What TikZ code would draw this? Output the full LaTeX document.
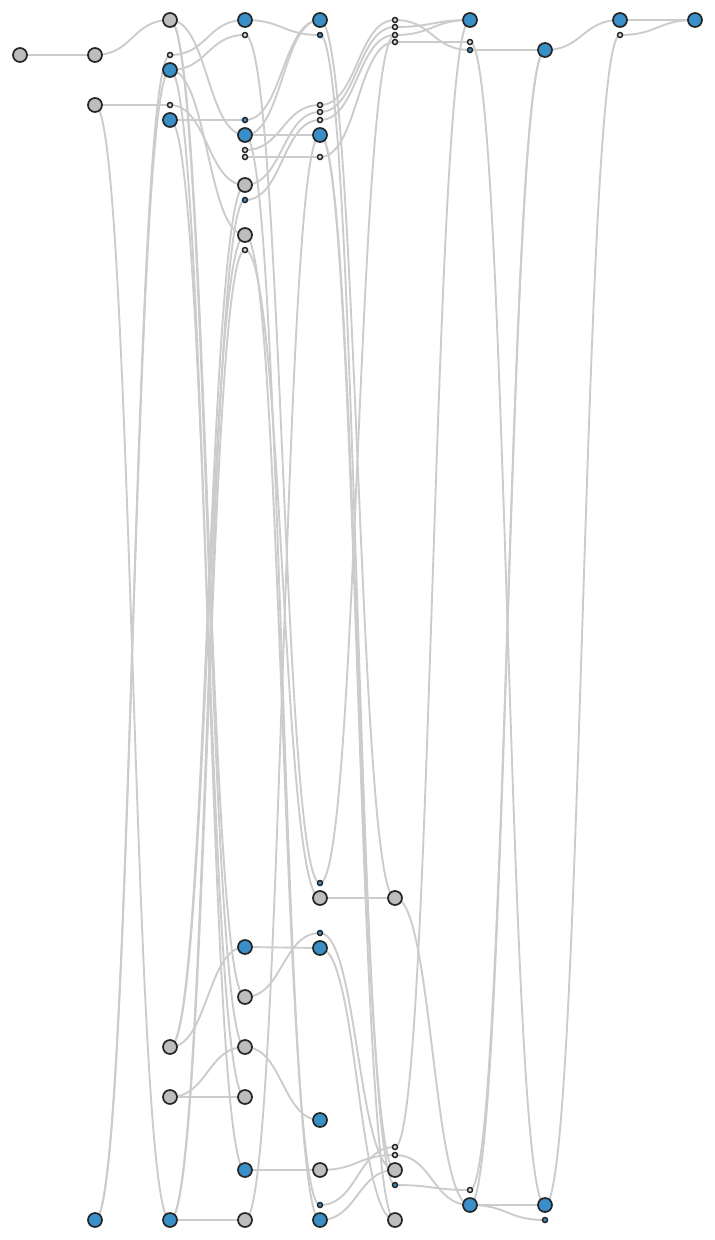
\documentclass[tikz,border=0pt]{standalone}
\usepackage{tikz}
\usetikzlibrary{backgrounds}
\usepackage{xcolor}
\definecolor{nodeblue}{HTML}{3A8FC9}
\definecolor{nodegray}{HTML}{BDBDBD}
\definecolor{linkgray}{HTML}{CCCCCC}

\begin{document}
\begin{tikzpicture}[x = 1pt, y = -1pt,
	bigblue/.style = {circle, draw = black!85, line width = 1.7pt, fill = nodeblue, inner sep = 0pt, minimum size = 14pt},
	biggray/.style = {circle, draw = black!85, line width = 1.7pt, fill = nodegray, inner sep = 0pt, minimum size = 14pt},
	dotblue/.style = {circle, draw = black!85, line width = 1.5pt, fill = nodeblue, inner sep = 0pt, minimum size = 5pt},
	dotgray/.style = {circle, draw = black!85, line width = 1.5pt, fill = black!12, inner sep = 0pt, minimum size = 5pt},
	link/.style = {draw = linkgray, line width = 1.9pt}]
	\useasboundingbox (0, 0) rectangle (715, 1240);

	\node[biggray] (A0) at (20,  55) {};

	\node[biggray] (B1) at (95,  55) {};
	\node[biggray] (B2) at (95, 105) {};
	\node[bigblue] (B3) at (95, 1220) {};

	\node[biggray] (C1) at (170,  20) {};
	\node[dotgray] (c2) at (170,  55) {};
	\node[bigblue] (C3) at (170,  70) {};
	\node[dotgray] (c4) at (170, 105) {};
	\node[bigblue] (C5) at (170, 120) {};
	\node[biggray] (C6) at (170, 1047) {};
	\node[biggray] (C7) at (170, 1097) {};
	\node[bigblue] (C8) at (170, 1220) {};

	\node[bigblue] (D1)  at (245,  20) {};
	\node[dotgray] (d2)  at (245,  35) {};
	\node[dotblue] (d3)  at (245, 120) {};
	\node[bigblue] (D4)  at (245, 135) {};
	\node[dotgray] (d5)  at (245, 150) {};
	\node[dotgray] (d6)  at (245, 157) {};
	\node[biggray] (D7)  at (245, 185) {};
	\node[dotblue] (d8)  at (245, 200) {};
	\node[biggray] (D9)  at (245, 235) {};
	\node[dotgray] (d10) at (245, 250) {};
	\node[bigblue] (D11) at (245, 947) {};
	\node[biggray] (D12) at (245, 997) {};
	\node[biggray] (D13) at (245, 1047) {};
	\node[biggray] (D14) at (245, 1097) {};
	\node[bigblue] (D15) at (245, 1170) {};
	\node[biggray] (D16) at (245, 1220) {};

	\node[bigblue] (E1)  at (320,  20) {};
	\node[dotblue] (e2)  at (320,  35) {};
	\node[dotgray] (e3)  at (320, 105) {};
	\node[dotgray] (e4)  at (320, 112) {};
	\node[dotgray] (e5)  at (320, 120) {};
	\node[bigblue] (E6)  at (320, 135) {};
	\node[dotgray] (e7)  at (320, 157) {};
	\node[dotblue] (e8)  at (320, 883) {};
	\node[biggray] (E9)  at (320, 898) {};
	\node[dotblue] (e10) at (320, 933) {};
	\node[bigblue] (E11) at (320, 948) {};
	\node[bigblue] (E12) at (320, 1120) {};
	\node[biggray] (E13) at (320, 1170) {};
	\node[dotblue] (e14) at (320, 1205) {};
	\node[bigblue] (E15) at (320, 1220) {};

	\node[dotgray] (f1)  at (395,  20) {};
	\node[dotgray] (f2)  at (395,  27) {};
	\node[dotgray] (f3)  at (395,  35) {};
	\node[dotgray] (f4)  at (395,  42) {};
	\node[biggray] (F5)  at (395, 898) {};
	\node[dotgray] (f6)  at (395, 1147) {};
	\node[dotgray] (f7)  at (395, 1155) {};
	\node[biggray] (F8)  at (395, 1170) {};
	\node[dotblue] (f9)  at (395, 1185) {};
	\node[biggray] (F10) at (395, 1220) {};

	\node[bigblue] (G1) at (470,  20) {};
	\node[dotgray] (g2) at (470,  42) {};
	\node[dotblue] (g3) at (470,  50) {};
	\node[dotgray] (g4) at (470, 1190) {};
	\node[bigblue] (G5) at (470, 1205) {};

	\node[bigblue] (H1) at (545,  50) {};
	\node[bigblue] (H2) at (545, 1205) {};
	\node[dotblue] (h3) at (545, 1220) {};

	\node[bigblue] (I1) at (620,  20) {};
	\node[dotgray] (i2) at (620,  35) {};

	\node[bigblue] (J1) at (695,  20) {};

	\begin{scope}[on background layer]
	\draw[link] (A0.center) .. controls +(37.5, 0) and +(-37.5, 0) .. (B1.center);

	\draw[link] (B1.center) .. controls +(37.5, 0) and +(-37.5, 0) .. (C1.center);
	\draw[link] (B2.center) .. controls +(37.5, 0) and +(-37.5, 0) .. (c4.center);
	\draw[link] (B2.center) .. controls +(37.5, 0) and +(-37.5, 0) .. (C8.center);
	\draw[link] (B3.center) .. controls +(37.5, 0) and +(-37.5, 0) .. (c2.center);
	\draw[link] (B3.center) .. controls +(37.5, 0) and +(-37.5, 0) .. (C3.center);

	\draw[link] (C1.center) .. controls +(37.5, 0) and +(-37.5, 0) .. (D4.center);
	\draw[link] (c2.center) .. controls +(37.5, 0) and +(-37.5, 0) .. (D1.center);
	\draw[link] (C3.center) .. controls +(37.5, 0) and +(-37.5, 0) .. (d2.center);
	\draw[link] (C5.center) .. controls +(37.5, 0) and +(-37.5, 0) .. (d3.center);
	\draw[link] (c4.center) .. controls +(37.5, 0) and +(-37.5, 0) .. (D7.center);
	\draw[link] (C3.center) .. controls +(37.5, 0) and +(-37.5, 0) .. (D9.center);
	\draw[link] (C1.center) .. controls +(37.5, 0) and +(-37.5, 0) .. (D12.center);
	\draw[link] (C1.center) .. controls +(37.5, 0) and +(-37.5, 0) .. (D13.center);
	\draw[link] (C5.center) .. controls +(37.5, 0) and +(-37.5, 0) .. (D14.center);
	\draw[link] (C3.center) .. controls +(37.5, 0) and +(-37.5, 0) .. (D15.center);
	\draw[link] (C6.center) .. controls +(37.5, 0) and +(-37.5, 0) .. (D7.center);
	\draw[link] (C6.center) .. controls +(37.5, 0) and +(-37.5, 0) .. (D9.center);
	\draw[link] (C8.center) .. controls +(37.5, 0) and +(-37.5, 0) .. (d8.center);
	\draw[link] (C8.center) .. controls +(37.5, 0) and +(-37.5, 0) .. (d10.center);
	\draw[link] (C6.center) .. controls +(37.5, 0) and +(-37.5, 0) .. (D11.center);
	\draw[link] (C7.center) .. controls +(37.5, 0) and +(-37.5, 0) .. (D13.center);
	\draw[link] (C7.center) .. controls +(37.5, 0) and +(-37.5, 0) .. (D14.center);
	\draw[link] (C8.center) .. controls +(37.5, 0) and +(-37.5, 0) .. (D16.center);

	\draw[link] (D1.center)  .. controls +(37.5, 0) and +(-37.5, 0) .. (e2.center);
	\draw[link] (d3.center)  .. controls +(37.5, 0) and +(-37.5, 0) .. (E1.center);
	\draw[link] (D4.center)  .. controls +(37.5, 0) and +(-37.5, 0) .. (E1.center);
	\draw[link] (D4.center)  .. controls +(37.5, 0) and +(-37.5, 0) .. (E6.center);
	\draw[link] (d5.center)  .. controls +(37.5, 0) and +(-37.5, 0) .. (e3.center);
	\draw[link] (d6.center)  .. controls +(37.5, 0) and +(-37.5, 0) .. (e7.center);
	\draw[link] (D7.center)  .. controls +(37.5, 0) and +(-37.5, 0) .. (e4.center);
	\draw[link] (d8.center)  .. controls +(37.5, 0) and +(-37.5, 0) .. (e5.center);
	\draw[link] (d2.center)  .. controls +(37.5, 0) and +(-37.5, 0) .. (e8.center);
	\draw[link] (D4.center)  .. controls +(37.5, 0) and +(-37.5, 0) .. (E15.center);
	\draw[link] (D9.center)  .. controls +(37.5, 0) and +(-37.5, 0) .. (e14.center);
	\draw[link] (d10.center) .. controls +(37.5, 0) and +(-37.5, 0) .. (E9.center);
	\draw[link] (D16.center) .. controls +(37.5, 0) and +(-37.5, 0) .. (E6.center);
	\draw[link] (D11.center) .. controls +(37.5, 0) and +(-37.5, 0) .. (E11.center);
	\draw[link] (D12.center) .. controls +(37.5, 0) and +(-37.5, 0) .. (e10.center);
	\draw[link] (D13.center) .. controls +(37.5, 0) and +(-37.5, 0) .. (E12.center);
	\draw[link] (D15.center) .. controls +(37.5, 0) and +(-37.5, 0) .. (E13.center);

	\draw[link] (e3.center)  .. controls +(37.5, 0) and +(-37.5, 0) .. (f1.center);
	\draw[link] (e4.center)  .. controls +(37.5, 0) and +(-37.5, 0) .. (f2.center);
	\draw[link] (e5.center)  .. controls +(37.5, 0) and +(-37.5, 0) .. (f3.center);
	\draw[link] (e7.center)  .. controls +(37.5, 0) and +(-37.5, 0) .. (f4.center);
	\draw[link] (e8.center)  .. controls +(37.5, 0) and +(-37.5, 0) .. (f3.center);
	\draw[link] (E1.center)  .. controls +(37.5, 0) and +(-37.5, 0) .. (F5.center);
	\draw[link] (e2.center)  .. controls +(37.5, 0) and +(-37.5, 0) .. (f9.center);
	\draw[link] (E6.center)  .. controls +(37.5, 0) and +(-37.5, 0) .. (F8.center);
	\draw[link] (E6.center)  .. controls +(37.5, 0) and +(-37.5, 0) .. (F10.center);
	\draw[link] (E9.center)  .. controls +(37.5, 0) and +(-37.5, 0) .. (F5.center);
	\draw[link] (e10.center) .. controls +(37.5, 0) and +(-37.5, 0) .. (F8.center);
	\draw[link] (E11.center) .. controls +(37.5, 0) and +(-37.5, 0) .. (F10.center);
	\draw[link] (E13.center) .. controls +(37.5, 0) and +(-37.5, 0) .. (f7.center);
	\draw[link] (e14.center) .. controls +(37.5, 0) and +(-37.5, 0) .. (f6.center);
	\draw[link] (E15.center) .. controls +(37.5, 0) and +(-37.5, 0) .. (F8.center);

	\draw[link] (f1.center)  .. controls +(37.5, 0) and +(-37.5, 0) .. (g3.center);
	\draw[link] (f2.center)  .. controls +(37.5, 0) and +(-37.5, 0) .. (G1.center);
	\draw[link] (f3.center)  .. controls +(37.5, 0) and +(-37.5, 0) .. (G1.center);
	\draw[link] (f4.center)  .. controls +(37.5, 0) and +(-37.5, 0) .. (g2.center);
	\draw[link] (f6.center)  .. controls +(37.5, 0) and +(-37.5, 0) .. (G1.center);
	\draw[link] (F5.center)  .. controls +(37.5, 0) and +(-37.5, 0) .. (G5.center);
	\draw[link] (f7.center)  .. controls +(37.5, 0) and +(-37.5, 0) .. (G5.center);
	\draw[link] (f9.center)  .. controls +(37.5, 0) and +(-37.5, 0) .. (g4.center);

	\draw[link] (g3.center) .. controls +(37.5, 0) and +(-37.5, 0) .. (H1.center);
	\draw[link] (g2.center) .. controls +(37.5, 0) and +(-37.5, 0) .. (H2.center);
	\draw[link] (g4.center) .. controls +(37.5, 0) and +(-37.5, 0) .. (H1.center);
	\draw[link] (G5.center) .. controls +(37.5, 0) and +(-37.5, 0) .. (H1.center);
	\draw[link] (G5.center) .. controls +(37.5, 0) and +(-37.5, 0) .. (H2.center);
	\draw[link] (G5.center) .. controls +(37.5, 0) and +(-37.5, 0) .. (h3.center);

	\draw[link] (H1.center) .. controls +(37.5, 0) and +(-37.5, 0) .. (I1.center);
	\draw[link] (H2.center) .. controls +(37.5, 0) and +(-37.5, 0) .. (i2.center);

	\draw[link] (I1.center) .. controls +(37.5, 0) and +(-37.5, 0) .. (J1.center);
	\draw[link] (i2.center) .. controls +(37.5, 0) and +(-37.5, 0) .. (J1.center);
	\end{scope}
\end{tikzpicture}
\end{document}
